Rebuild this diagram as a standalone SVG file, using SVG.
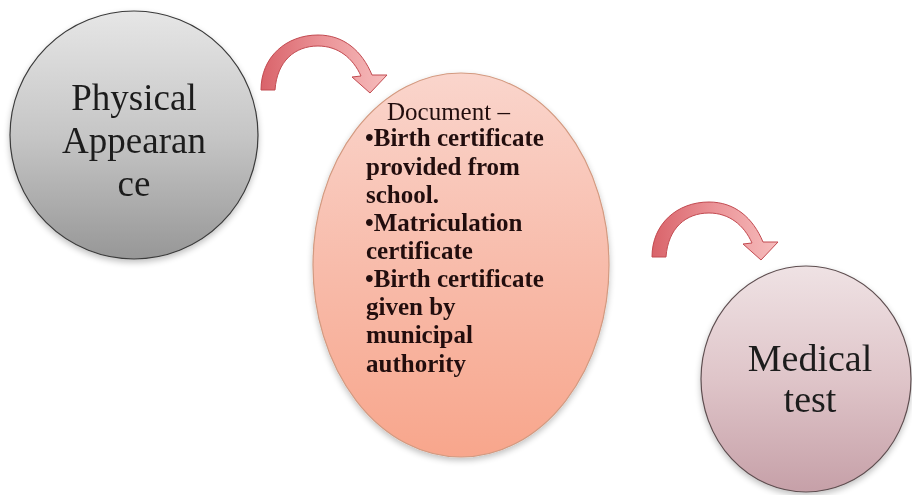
<svg xmlns="http://www.w3.org/2000/svg" width="912" height="495" viewBox="0 0 912 495">
  <defs>
    <linearGradient id="gGray" x1="0" y1="0" x2="0" y2="1">
      <stop offset="0" stop-color="#e6e6e6"/>
      <stop offset="0.5" stop-color="#c6c6c6"/>
      <stop offset="1" stop-color="#979797"/>
    </linearGradient>
    <linearGradient id="gSalmon" x1="0" y1="0" x2="0" y2="1">
      <stop offset="0" stop-color="#fad5cc"/>
      <stop offset="0.5" stop-color="#f8bcab"/>
      <stop offset="1" stop-color="#f8a68c"/>
    </linearGradient>
    <linearGradient id="gMauve" x1="0" y1="0" x2="0" y2="1">
      <stop offset="0" stop-color="#efe2e4"/>
      <stop offset="0.5" stop-color="#dfc5c9"/>
      <stop offset="1" stop-color="#c6a0a8"/>
    </linearGradient>
    <linearGradient id="gArrow" x1="0" y1="0" x2="1" y2="0">
      <stop offset="0" stop-color="#d9636a"/>
      <stop offset="0.5" stop-color="#eb9498"/>
      <stop offset="1" stop-color="#f6bcbc"/>
    </linearGradient>
    <filter id="shadow" x="-10%" y="-10%" width="120%" height="125%">
      <feGaussianBlur in="SourceAlpha" stdDeviation="3"/>
      <feOffset dx="0" dy="3" result="b"/>
      <feComponentTransfer><feFuncA type="linear" slope="0.25"/></feComponentTransfer>
      <feMerge><feMergeNode/><feMergeNode in="SourceGraphic"/></feMerge>
    </filter>
  </defs>
  <style>
    .lbl { font-family: "Liberation Serif", "Times New Roman", serif; fill: #1c1c1c; }
    .big { font-size: 37px; text-anchor: middle; }
    .doc { font-size: 25px; fill: #231010; }
    .b { font-weight: bold; }
    .arrow { fill: url(#gArrow); stroke: #c24a50; stroke-width: 1; stroke-linejoin: round; }
  </style>
  <rect width="912" height="495" fill="#ffffff"/>

  <g id="node-physical" filter="url(#shadow)">
    <circle cx="134" cy="135" r="124" fill="url(#gGray)" stroke="#3a3a3a" stroke-width="1.2"/>
    <text class="lbl big" x="134" y="110">Physical</text>
    <text class="lbl big" x="134" y="153">Appearan</text>
    <text class="lbl big" x="134" y="196">ce</text>
  </g>

  <g id="node-document" filter="url(#shadow)">
    <ellipse cx="461" cy="265" rx="148" ry="192" fill="url(#gSalmon)" stroke="#d39a80" stroke-width="1.2"/>
    <text class="lbl doc" x="387" y="120">Document –</text>
    <text class="lbl doc b" x="365" y="146">•Birth certificate</text>
    <text class="lbl doc b" x="366" y="175">provided from</text>
    <text class="lbl doc b" x="366" y="203">school.</text>
    <text class="lbl doc b" x="365" y="231">•Matriculation</text>
    <text class="lbl doc b" x="366" y="259">certificate</text>
    <text class="lbl doc b" x="365" y="287">•Birth certificate</text>
    <text class="lbl doc b" x="366" y="315">given by</text>
    <text class="lbl doc b" x="366" y="343">municipal</text>
    <text class="lbl doc b" x="366" y="372">authority</text>
  </g>

  <g id="node-medical" filter="url(#shadow)">
    <ellipse cx="806" cy="379" rx="105" ry="113" fill="url(#gMauve)" stroke="#5e4e50" stroke-width="1.2"/>
    <text class="lbl big" x="810" y="371" style="font-size:38px">Medical</text>
    <text class="lbl big" x="810" y="412" style="font-size:38px">test</text>
  </g>

  <g id="connectors">
    <path id="arrow-1" class="arrow" d="M 261 90 C 261 57, 286 35, 318 35 C 344 35, 362 51, 372 75 L 387 75 L 370 93 L 352 77 L 361 76 C 353 58, 338 46, 318 46 C 295 46, 277 61, 275 90 Z"/>
    <path id="arrow-2" class="arrow" transform="translate(391,167)" d="M 261 90 C 261 57, 286 35, 318 35 C 344 35, 362 51, 372 75 L 387 75 L 370 93 L 352 77 L 361 76 C 353 58, 338 46, 318 46 C 295 46, 277 61, 275 90 Z"/>
  </g>
</svg>
